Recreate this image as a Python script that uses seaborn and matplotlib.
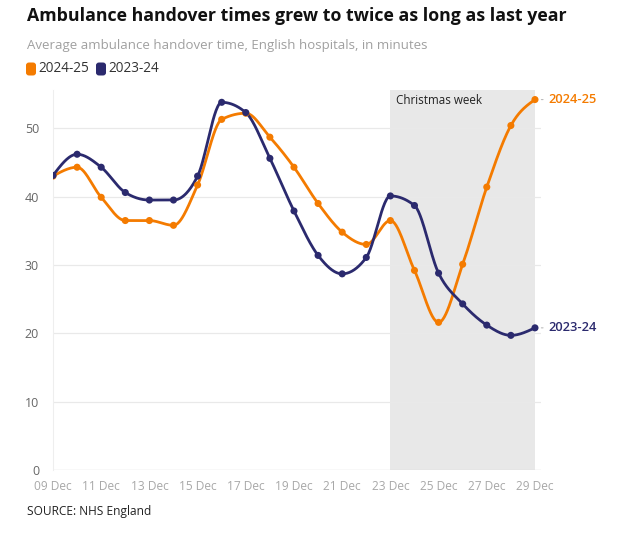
import numpy as np
import pandas as pd
import matplotlib
matplotlib.use("Agg")
import matplotlib.pyplot as plt
import seaborn as sns
from matplotlib.patches import FancyBboxPatch

# ---- data ----
days = list(range(9, 30))
tick_days = [9, 11, 13, 15, 17, 19, 21, 23, 25, 27, 29]
tick_labels = ["09 Dec", "11 Dec", "13 Dec", "15 Dec", "17 Dec", "19 Dec",
               "21 Dec", "23 Dec", "25 Dec", "27 Dec", "29 Dec"]
y_ticks = [0, 10, 20, 30, 40, 50]
series_2024 = [43.0, 44.3, 39.9, 36.5, 36.5, 35.8, 41.7, 51.3, 52.2, 48.7, 44.3,
               39.0, 34.8, 33.0, 36.5, 29.2, 21.6, 30.1, 41.4, 50.4, 54.2]
series_2023 = [43.1, 46.2, 44.3, 40.6, 39.5, 39.5, 43.0, 53.8, 52.3, 45.6, 37.9,
               31.4, 28.7, 31.1, 40.1, 38.7, 28.8, 24.3, 21.2, 19.7, 20.8]
series_names = ["2024-25", "2023-24"]
xmas_start, xmas_end = 23, 29

ORANGE = "#F47B00"
NAVY = "#2B2A6E"


def monotone_curve(x, y, n=30):
    """d3 curveMonotoneX-style smoothing for drawing the line."""
    x = np.asarray(x, float)
    y = np.asarray(y, float)
    h = np.diff(x)
    s = np.diff(y) / h
    t = np.zeros_like(y)
    for i in range(1, len(y) - 1):
        p = (s[i - 1] * h[i] + s[i] * h[i - 1]) / (h[i - 1] + h[i])
        t[i] = (np.sign(s[i - 1]) + np.sign(s[i])) * min(abs(s[i - 1]), abs(s[i]), 0.5 * abs(p))
    t[0] = (3 * s[0] - t[1]) / 2
    t[-1] = (3 * s[-1] - t[-2]) / 2
    xs, ys = [], []
    for i in range(len(x) - 1):
        u = np.linspace(0, 1, n, endpoint=False)
        hh = h[i]
        h00 = 2 * u**3 - 3 * u**2 + 1
        h10 = u**3 - 2 * u**2 + u
        h01 = -2 * u**3 + 3 * u**2
        h11 = u**3 - u**2
        xs.append(x[i] + u * hh)
        ys.append(h00 * y[i] + h10 * hh * t[i] + h01 * y[i + 1] + h11 * hh * t[i + 1])
    xs.append([x[-1]])
    ys.append([y[-1]])
    return np.concatenate(xs), np.concatenate(ys)


sns.set_theme(style="white")
plt.rcParams["font.family"] = ["Open Sans", "DejaVu Sans"]

fig = plt.figure(figsize=(6.2, 5.41), dpi=100)
ax = fig.add_axes([53 / 620, 1 - 470 / 541, (541 - 53) / 620, (470 - 90) / 541])

# Christmas week shading
ax.axvspan(xmas_start, xmas_end, ymin=0, ymax=1, color="#E8E8E8", lw=0, zorder=0)
ax.text(xmas_start + 0.25, 54.0, "Christmas week", fontsize=8.4, color="#222222",
        va="center", ha="left", zorder=1)

# gridlines
for yt in y_ticks[1:]:
    ax.axhline(yt, color="#E9E9E9", lw=0.9, zorder=0.5)
ax.axhline(0, color="#DDDDDD", lw=1.0, zorder=0.5)

colors = {"2024-25": ORANGE, "2023-24": NAVY}
for name, vals in zip(series_names, [series_2024, series_2023]):
    cx, cy = monotone_curve(days, vals)
    sns.lineplot(x=cx, y=cy, ax=ax, color=colors[name], lw=2.0, zorder=3,
                 estimator=None, sort=False)
    sns.scatterplot(x=days, y=vals, ax=ax, color=colors[name], s=26,
                    edgecolor="none", zorder=4)

ax.set_xlim(9, 29.25)
ax.set_ylim(0, 55.6)
ax.set_xticks(tick_days)
ax.set_xticklabels(tick_labels, fontsize=8.6, color="#A8A8A8")
ax.set_yticks(y_ticks)
ax.set_yticklabels([str(v) for v in y_ticks], fontsize=9, color="#666666")
ax.tick_params(axis="x", length=4, color="#DDDDDD", pad=3, width=0.8)
ax.tick_params(axis="y", length=0, pad=10)
for sp in ["top", "right", "bottom"]:
    ax.spines[sp].set_visible(False)
ax.spines["left"].set_color("#EEEEEE")
ax.spines["left"].set_linewidth(0.8)
ax.set_xlabel("")
ax.set_ylabel("")

# end labels
for name, vals in zip(series_names, [series_2024, series_2023]):
    ax.annotate("", xy=(29.15, vals[-1]), xytext=(29.45, vals[-1]),
                arrowprops=dict(arrowstyle="-", color="#BBBBBB", lw=0.8),
                annotation_clip=False)
    ax.text(29.55, vals[-1], name, color=colors[name], fontsize=9.3,
            fontweight="semibold", va="center", ha="left", clip_on=False)

# titles
fig.text(27 / 620, 1 - 16 / 541, "Ambulance handover times grew to twice as long as last year",
         fontsize=12.8, fontweight="bold", color="#111111", va="center", ha="left")
fig.text(27 / 620, 1 - 46 / 541, "Average ambulance handover time, English hospitals, in minutes",
         fontsize=9.5, color="#A0A0A0", va="center", ha="left")

# legend
leg_items = [(26, "2024-25", ORANGE), (96, "2023-24", NAVY)]
for x0, lab, col in leg_items:
    box = FancyBboxPatch((x0 / 620, 1 - 75.5 / 541), 10 / 620, 13 / 541,
                         boxstyle="round,pad=0,rounding_size=0.005",
                         transform=fig.transFigure, color=col, lw=0)
    fig.patches.append(box)
    fig.text((x0 + 12) / 620, 1 - 68.5 / 541, lab, fontsize=9.8, color="#333333",
             va="center", ha="left")

fig.text(27 / 620, 1 - 511 / 541, "SOURCE: NHS England", fontsize=8.6,
         color="#222222", va="center", ha="left")

fig.savefig("out.png", dpi=100)
